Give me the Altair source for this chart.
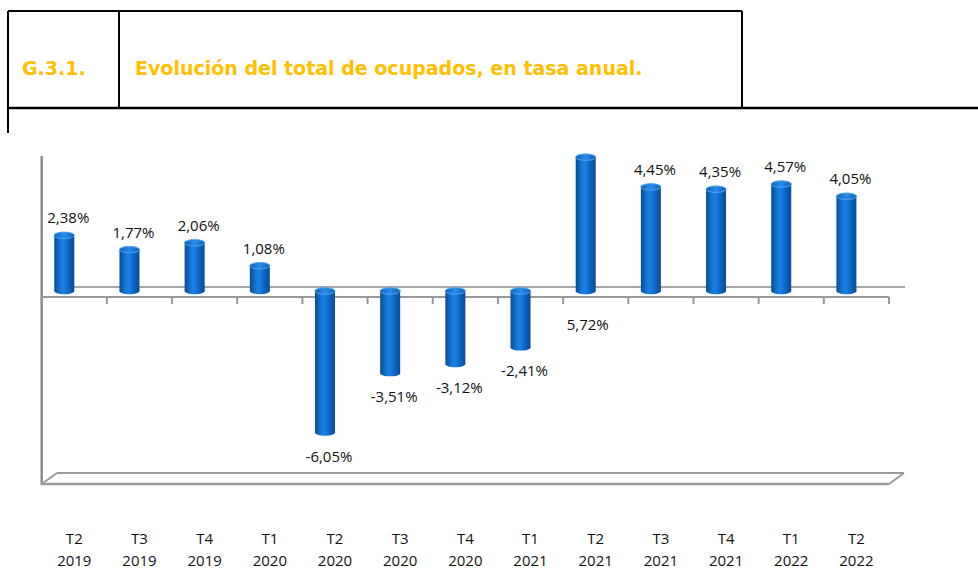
import altair as alt
import pandas as pd

# ---- data ----
categories = ["T2 2019", "T3 2019", "T4 2019", "T1 2020", "T2 2020", "T3 2020", "T4 2020",
              "T1 2021", "T2 2021", "T3 2021", "T4 2021", "T1 2022", "T2 2022"]
quarters = ["T2", "T3", "T4", "T1", "T2", "T3", "T4", "T1", "T2", "T3", "T4", "T1", "T2"]
years = ["2019", "2019", "2019", "2020", "2020", "2020", "2020",
         "2021", "2021", "2021", "2021", "2022", "2022"]
values = [2.38, 1.77, 2.06, 1.08, -6.05, -3.51, -3.12, -2.41, 5.72, 4.45, 4.35, 4.57, 4.05]

code_text = "G.3.1."
title_text = "Evolución del total de ocupados, en tasa anual."

df = pd.DataFrame({
    "cat": categories,
    "q": quarters,
    "yr": years,
    "value": values,
})
df["label"] = [f"{v:.2f}".replace(".", ",") + "%" for v in values]
df["top"] = [max(v, 0) for v in values]
df["bottom"] = [min(v, 0) for v in values]

# ---- scales ----
xs = alt.Scale(domain=categories, range=[41.7, 889], paddingInner=0, paddingOuter=0)
ys = alt.Scale(domain=[-8, 6], range=[478.2, 150.6], nice=False, zero=False)
X = alt.X("cat:N", scale=xs, axis=None, sort=categories)

base = alt.Chart(df)

GRAY = "#9a9a9a"
one = pd.DataFrame({"a": [0]})


def seg(x1, y1, x2, y2, color=GRAY, w=2):
    return alt.Chart(one).mark_rule(color=color, strokeWidth=w).encode(
        x=alt.value(x1), y=alt.value(y1), x2=alt.value(x2), y2=alt.value(y2))


decor = [
    # header table
    seg(8, 11, 742, 11, "#000000", 2),
    seg(8, 108, 978, 108, "#000000", 2.5),
    seg(8, 11, 8, 133, "#000000", 2),
    seg(119, 11, 119, 108, "#000000", 2),
    seg(742, 11, 742, 108, "#000000", 2),
    # chart frame
    seg(41.7, 156, 41.7, 485, "#8c8c8c", 2.5),
    seg(57, 287, 905, 287, "#a8a8a8", 2),
    seg(41.7, 297, 889, 297, "#999999", 2),
    seg(57, 473, 904, 473, GRAY, 2),
    seg(41.7, 484, 889, 484, GRAY, 2.5),
    seg(41.7, 484, 57, 473, GRAY, 2),
    seg(889, 484, 904, 473, GRAY, 2),
]

ticks = base.mark_rule(color="#999999", strokeWidth=2).encode(
    x=alt.X("cat:N", scale=xs, axis=None, sort=categories, bandPosition=0),
    y=alt.value(297), y2=alt.value(304))
tick_end = base.transform_filter(alt.datum.cat == categories[-1]).mark_rule(
    color="#999999", strokeWidth=2).encode(
    x=alt.X("cat:N", scale=xs, axis=None, sort=categories, bandPosition=1),
    y=alt.value(297), y2=alt.value(304))

bar_grad = alt.Gradient(
    gradient="linear", x1=0, x2=1, y1=0, y2=0,
    stops=[alt.GradientStop(color="#0a4a94", offset=0),
           alt.GradientStop(color="#1477d6", offset=0.3),
           alt.GradientStop(color="#1a82e4", offset=0.45),
           alt.GradientStop(color="#0b62bf", offset=0.75),
           alt.GradientStop(color="#0a4a94", offset=1)])
cap_grad = alt.Gradient(
    gradient="linear", x1=0, x2=1, y1=0, y2=0,
    stops=[alt.GradientStop(color="#0d5fb8", offset=0),
           alt.GradientStop(color="#2a8ce8", offset=0.5),
           alt.GradientStop(color="#0d5fb8", offset=1)])

ELLIPSE = "M -1 0 A 1 0.32 0 1 0 1 0 A 1 0.32 0 1 0 -1 0 Z"
XOFF = -10

bottom_caps = base.mark_point(shape=ELLIPSE, size=400, filled=True, fill=bar_grad,
                              opacity=1, xOffset=XOFF, strokeWidth=0).encode(
    x=X, y=alt.Y("bottom:Q", scale=ys, axis=None))

bars = base.mark_bar(width=20, xOffset=XOFF, color=bar_grad).encode(
    x=X, y=alt.Y("top:Q", scale=ys, axis=None), y2="bottom:Q")

top_caps = base.mark_point(shape=ELLIPSE, size=400, filled=True, fill=cap_grad,
                           stroke="#4ea6f2", strokeWidth=1, opacity=1,
                           xOffset=XOFF).encode(
    x=X, y=alt.Y("top:Q", scale=ys, axis=None))

FONT = "Open Sans"
TXT = "#111111"
lab_pos = base.transform_filter("datum.value > 0 && datum.value < 5").mark_text(
    font=FONT, fontSize=15, color=TXT, baseline="middle", dy=-17, xOffset=-6).encode(
    x=X, y=alt.Y("value:Q", scale=ys, axis=None), text="label:N")
lab_neg = base.transform_filter("datum.value < 0").mark_text(
    font=FONT, fontSize=15, color=TXT, baseline="middle", dy=24, xOffset=-6).encode(
    x=X, y=alt.Y("value:Q", scale=ys, axis=None), text="label:N")
lab_big = base.transform_filter("datum.value >= 5").mark_text(
    font=FONT, fontSize=15, color=TXT, baseline="middle", dy=34, xOffset=-8).encode(
    x=X, y=alt.Y("bottom:Q", scale=ys, axis=None), text="label:N")

q_text = base.mark_text(font=FONT, fontSize=15, color=TXT, baseline="middle").encode(
    x=X, y=alt.value(539), text="q:N")
y_text = base.mark_text(font=FONT, fontSize=15, color=TXT, baseline="middle").encode(
    x=X, y=alt.value(561), text="yr:N")

code_mark = alt.Chart(one).mark_text(
    text=code_text, font="DejaVu Sans", fontWeight="bold", fontSize=19,
    color="#FFC000", align="left", baseline="alphabetic").encode(
    x=alt.value(22), y=alt.value(75))
title_mark = alt.Chart(one).mark_text(
    text=title_text, font="DejaVu Sans", fontWeight="bold", fontSize=19,
    color="#FFC000", align="left", baseline="alphabetic").encode(
    x=alt.value(135), y=alt.value(75))

chart = alt.layer(
    *decor, ticks, tick_end, bottom_caps, bars, top_caps,
    lab_pos, lab_neg, lab_big, q_text, y_text, code_mark, title_mark
).properties(
    width=978, height=571, autosize=alt.AutoSizeParams(type="none"), padding=0,
    background="#ffffff"
).configure_view(stroke=None)

chart.save("out.html", embed_options={"renderer": "svg", "actions": False})
